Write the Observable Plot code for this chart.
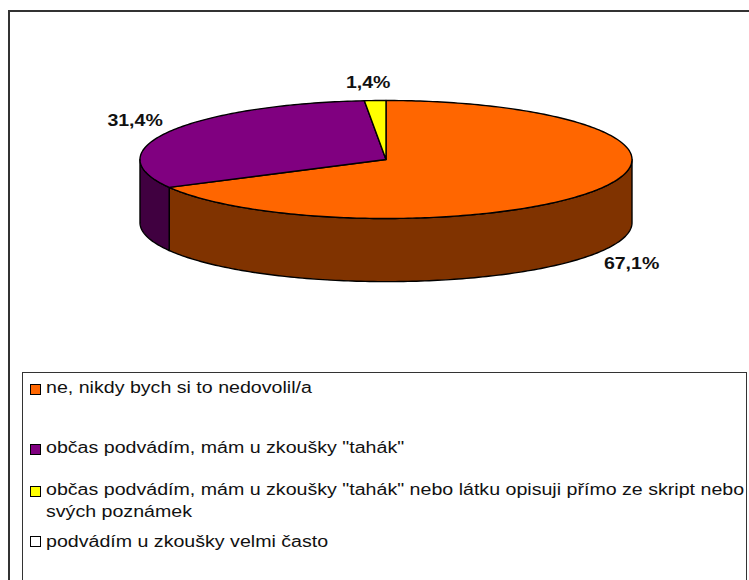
<!DOCTYPE html>
<html lang="cs">
<head>
<meta charset="utf-8">
<script src="https://cdn.jsdelivr.net/npm/d3@7"></script>
<script src="https://cdn.jsdelivr.net/npm/@observablehq/plot@0.6"></script>
<style>
  html, body { margin: 0; padding: 0; background: #fff; overflow: hidden; }
  #page { position: relative; width: 749px; height: 580px; overflow: hidden; font-family: "Liberation Sans", Arial, sans-serif; }
  #frame { position: absolute; left: 8px; top: 10px; width: 760px; height: 600px; border-left: 2px solid #333; border-top: 2px solid #333; }
  #chart { position: absolute; left: 0; top: 0; }
  #legend { position: absolute; left: 22px; top: 372px; width: 723px; height: 230px; border: 1px solid #333; background: #fff; }
  .item { position: absolute; left: 23px; width: 702px; font-size: 16px; line-height: 22px; color: #111; white-space: nowrap; transform: scaleX(1.225); transform-origin: left center; }
  .sw { position: absolute; left: 7px; width: 9px; height: 9px; border: 1px solid #000; }
</style>
</head>
<body>
<div id="page"><div id="frame"></div><div id="chart"></div><div id="legend"></div></div>
<script>
const categories = [
  "ne, nikdy bych si to nedovolil/a",
  "občas podvádím, mám u zkoušky \"tahák\"",
  "občas podvádím, mám u zkoušky \"tahák\" nebo látku opisuji přímo ze skript nebo\nsvých poznámek",
  "podvádím u zkoušky velmi často"
];
const shares = [67.1, 31.4, 1.4, 0];
const shareLabels = ["67,1%", "31,4%", "1,4%", null];
const topColors = ["#ff6600", "#800080", "#ffff00", "#ffffff"];
const wallColors = ["#803300", "#400040", "#808000", "#808080"];
const labelOffsets = [[34.5, 74], [-34.5, -11], [-7, -18], [0, 0]];
const legendTops = [4, 64, 106, 158];
const swatchTops = [11, 71, 113, 163];

const depth = 1.07;
const total = d3.sum(shares);
const rad = d => d * Math.PI / 180;
const pt = a => ({ px: Math.sin(a), py: Math.cos(a) });

let acc = 0;
const slices = shares.map((v, i) => {
  const a0 = acc / total * 2 * Math.PI;
  acc += v;
  const a1 = acc / total * 2 * Math.PI;
  return { i, a0, a1, mid: (a0 + a1) / 2 };
});

function arc(a0, a1) {
  const n = Math.max(2, Math.ceil((a1 - a0) / rad(1)));
  return d3.range(n + 1).map(k => a0 + (a1 - a0) * k / n);
}

const topRows = slices.filter(s => s.a1 > s.a0).flatMap(s => [
  { slice: s.i, px: 0, py: 0, color: topColors[s.i] },
  ...arc(s.a0, s.a1).map(a => ({ slice: s.i, ...pt(a), color: topColors[s.i] }))
]);

const wallRows = slices.flatMap(s => {
  const a0 = Math.max(s.a0, Math.PI / 2), a1 = Math.min(s.a1, 3 * Math.PI / 2);
  if (a1 <= a0) return [];
  const as = arc(a0, a1);
  return [
    ...as.map(a => ({ slice: s.i, ...pt(a), color: wallColors[s.i] })),
    ...as.slice().reverse().map(a => {
      const p = pt(a);
      return { slice: s.i, px: p.px, py: p.py - depth, color: wallColors[s.i] };
    })
  ];
});

const labelRows = slices.filter(s => shareLabels[s.i]).map(s => ({ ...pt(s.mid), i: s.i, text: shareLabels[s.i] }));

const line = (rows) => Plot.line(rows, {
  x: "px", y: "py", z: "slice", fill: "color", stroke: "#000", strokeWidth: 1.4,
  curve: "linear-closed", strokeLinejoin: "round"
});

const chart = Plot.plot({
  width: 749, height: 372,
  margin: 0,
  x: { domain: [-1, 1], range: [139.5, 631.5], axis: null },
  y: { domain: [-1, 1], range: [218, 100], axis: null },
  color: { type: "identity" },
  style: { background: "transparent" },
  marks: [
    line(wallRows),
    line(topRows),
    ...labelRows.map(d => Plot.text([d], {
      x: "px", y: "py", text: "text",
      dx: labelOffsets[d.i][0], dy: labelOffsets[d.i][1],
      fontSize: 16, fontWeight: "bold", fill: "#111", fontFamily: "Liberation Sans, Arial, sans-serif"
    }))
  ]
});
document.getElementById("chart").appendChild(chart);
d3.select(chart).selectAll("text").each(function () {
  this.setAttribute("lengthAdjust", "spacingAndGlyphs");
  this.setAttribute("textLength", this.getComputedTextLength() * 1.22);
});

const legend = d3.select("#legend");
categories.forEach((c, i) => {
  legend.append("div").attr("class", "sw")
    .style("top", swatchTops[i] + "px").style("background", topColors[i]);
  const item = legend.append("div").attr("class", "item").style("top", legendTops[i] + "px");
  c.split("\n").forEach((t, k) => { if (k) item.append("br"); item.append("span").text(t); });
});
</script>
</body>
</html>
